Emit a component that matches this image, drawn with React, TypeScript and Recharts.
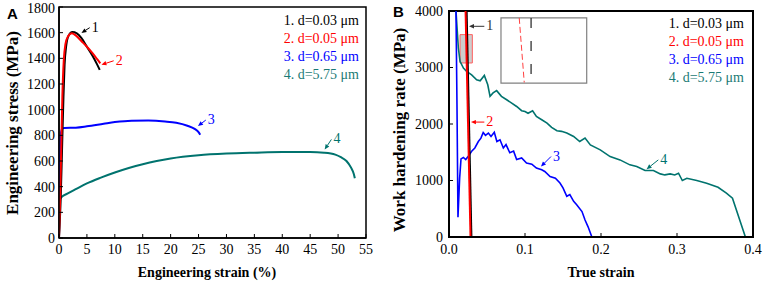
import { LineChart, Line, XAxis, YAxis, ReferenceArea, ReferenceLine } from "recharts";

// ---------- panel A: engineering stress-strain ----------
const strainA1 = [0, 0.3, 0.55, 0.8, 1.0, 1.3, 1.7, 2.4, 3.2, 4, 5, 6, 6.8, 7.3];
const stressA1 = [0, 300, 700, 1100, 1350, 1500, 1575, 1605, 1595, 1560, 1490, 1420, 1355, 1310];

const strainA2 = [0, 0.2, 0.4, 0.6, 0.85, 1.15, 1.6, 2.3, 3.1, 4, 5, 6, 6.8, 7.4];
const stressA2 = [0, 300, 700, 1100, 1380, 1510, 1570, 1595, 1575, 1535, 1490, 1440, 1395, 1360];

const strainA3 = [0, 0.1, 0.3, 0.6, 1, 3, 5, 8, 10, 13, 16, 19, 21, 23, 24.3, 25, 25.3];
const stressA3 = [0, 400, 800, 855, 858, 860, 870, 890, 903, 914, 915, 908, 898, 875, 850, 825, 805];

const strainA4 = [0, 0.05, 0.5, 1.5, 3, 5, 7.5, 10, 12.5, 15, 17.5, 20, 25, 30, 35, 40, 45, 47.5, 49.5, 50.5, 51.5, 52.3, 52.8, 53];
const stressA4 = [0, 290, 320, 345, 380, 425, 470, 510, 545, 575, 600, 620, 645, 658, 665, 670, 670, 665, 650, 630, 600, 550, 500, 465];

const ticksAX = [0, 5, 10, 15, 20, 25, 30, 35, 40, 45, 50, 55];
const ticksAY = [0, 200, 400, 600, 800, 1000, 1200, 1400, 1600, 1800];

// ---------- panel B: work hardening rate ----------
const strainB1 = [0.0232, 0.0295];
const rateB1 = [4000, 0];
const strainB2 = [0.0218, 0.0283];
const rateB2 = [4000, 0];

const strainB3 = [0.0092, 0.0105, 0.0118, 0.014, 0.0158, 0.0189, 0.022, 0.0254, 0.0298, 0.034, 0.0386, 0.042, 0.045, 0.048, 0.0518, 0.0553, 0.0596, 0.063, 0.0671, 0.0715, 0.075, 0.08, 0.085, 0.089, 0.0956, 0.102, 0.109, 0.115, 0.122, 0.126, 0.133, 0.14, 0.146, 0.15, 0.155, 0.159, 0.164, 0.168, 0.175, 0.179, 0.183, 0.188];
const rateB3 = [4000, 2340, 349, 1040, 1383, 1407, 1370, 1430, 1517, 1576, 1690, 1750, 1850, 1800, 1840, 1780, 1855, 1690, 1720, 1576, 1635, 1490, 1520, 1370, 1400, 1310, 1290, 1220, 1190, 1160, 1070, 1040, 955, 870, 720, 750, 630, 570, 450, 300, 180, 0];

const strainB4 = [0.0092, 0.0123, 0.0145, 0.019, 0.0232, 0.0298, 0.0364, 0.041, 0.0465, 0.051, 0.054, 0.058, 0.0627, 0.069, 0.0759, 0.0825, 0.089, 0.0956, 0.1, 0.104, 0.11, 0.115, 0.122, 0.129, 0.135, 0.142, 0.148, 0.155, 0.164, 0.172, 0.179, 0.186, 0.199, 0.212, 0.225, 0.238, 0.247, 0.258, 0.269, 0.278, 0.284, 0.291, 0.297, 0.302, 0.307, 0.313, 0.326, 0.339, 0.354, 0.365, 0.373, 0.39];
const rateB4 = [4000, 3345, 3109, 2990, 2930, 2870, 2784, 2765, 2860, 2695, 2490, 2550, 2590, 2490, 2430, 2370, 2310, 2235, 2220, 2190, 2235, 2133, 2075, 2015, 1940, 1880, 1870, 1840, 1780, 1690, 1750, 1630, 1543, 1424, 1365, 1277, 1247, 1176, 1176, 1117, 1099, 1117, 1099, 1129, 1000, 1040, 1000, 950, 880, 775, 686, 0];

const ticksBX = [0, 0.1, 0.2, 0.3, 0.4];
const ticksBY = [0, 1000, 2000, 3000, 4000];

const legendLabels = ["1. d=0.03 μm", "2. d=0.05 μm", "3. d=0.65 μm", "4. d=5.75 μm"];
const colors = ["#000000", "#ff0000", "#0000ff", "#00736e"];
const legendColors = ["#000000", "#ff0000", "#0000ff", "#1a7a75"];

const zip = (xs: number[], ys: number[]) => xs.map((x, i) => ({ x, y: ys[i] }));

const seriesA = [zip(strainA1, stressA1), zip(strainA2, stressA2), zip(strainA3, stressA3), zip(strainA4, stressA4)];
const seriesB = [zip(strainB1, rateB1), zip(strainB2, rateB2), zip(strainB3, rateB3), zip(strainB4, rateB4)];

// annotation arrows: tail -> head, in data units
const arrowsA = [
  { tail: [5.5, 1639], head: [4.02, 1598], text: "1", color: "#000" },
  { tail: [9.8, 1381], head: [7.6, 1350], text: "2", color: "#ff0000" },
  { tail: [26.3, 919], head: [24.9, 872], text: "3", color: "#0000ff" },
  { tail: [48.8, 768], head: [47.6, 690], text: "4", color: "#00736e" },
];
const arrowsB = [
  { tail: [0.0465, 3729], head: [0.0263, 3729], text: "1", color: "#333" },
  { tail: [0.0465, 2034], head: [0.0289, 2034], text: "2", color: "#ff0000" },
  { tail: [0.1342, 1424], head: [0.121, 1246], text: "3", color: "#0000ff" },
  { tail: [0.2754, 1365], head: [0.26, 1200], text: "4", color: "#00736e" },
];

const serif = "Liberation Serif, Times New Roman, serif";
const tickStyle = { fill: "#000", fontSize: 14, fontFamily: serif };

const arrowShape = (color: string, text: string) => (p: any) => {
  const { x1, y1, x2, y2 } = p;
  const a = Math.atan2(y2 - y1, x2 - x1);
  const L = 5;
  const W = 2.2;
  const bx = x2 - L * Math.cos(a);
  const by = y2 - L * Math.sin(a);
  const pts = `${x2},${y2} ${bx - W * Math.sin(a)},${by + W * Math.cos(a)} ${bx + W * Math.sin(a)},${by - W * Math.cos(a)}`;
  return (
    <g>
      <line x1={x1} y1={y1} x2={bx} y2={by} stroke={color} strokeWidth={1} />
      <polygon points={pts} fill={color} />
      <text x={x1 + 2} y={y1 + 4} fill={color} fontSize={14} fontFamily={serif}>
        {text}
      </text>
    </g>
  );
};

function Legend({ right, top }: { right: number; top: number }) {
  return (
    <div style={{ position: "absolute", left: 0, top, width: right, textAlign: "right", fontFamily: serif, fontSize: 14, lineHeight: "18px" }}>
      {legendLabels.map((l, i) => (
        <div key={l} style={{ color: legendColors[i] }}>{l}</div>
      ))}
    </div>
  );
}

function App() {
  return (
    <div style={{ position: "absolute", left: 0, top: 0, width: 765, height: 283, background: "#fff", fontFamily: serif, overflow: "hidden" }}>
      {/* panel A */}
      <div style={{ position: "absolute", left: 0, top: 0 }}>
        <LineChart width={380} height={283} margin={{ top: 7, right: 14, bottom: 15, left: 9 }} style={{ fontFamily: serif }}>
          <XAxis type="number" dataKey="x" domain={[0, 55]} ticks={ticksAX} allowDataOverflow height={30}
            tick={tickStyle} tickSize={-4} tickMargin={10} axisLine={{ stroke: "#000", strokeWidth: 1.5 }} tickLine={{ stroke: "#000" }} />
          <YAxis type="number" dataKey="y" domain={[0, 1800]} ticks={ticksAY} allowDataOverflow width={50}
            tick={tickStyle} tickSize={-4} tickMargin={8} axisLine={{ stroke: "#000", strokeWidth: 1.5 }} tickLine={{ stroke: "#000" }} />
          <ReferenceArea x1={0} x2={55} y1={0} y2={1800} fill="none" stroke="#000" strokeWidth={1.5} />
          {[3, 2, 0, 1].map((i) => (
            <Line key={i} data={seriesA[i]} dataKey="y" type="monotone" stroke={colors[i]} strokeWidth={2} dot={false} isAnimationActive={false} />
          ))}
          {arrowsA.map((a) => (
            <ReferenceLine key={a.text} segment={[{ x: a.tail[0], y: a.tail[1] }, { x: a.head[0], y: a.head[1] }]} shape={arrowShape(a.color, a.text)} />
          ))}
        </LineChart>
      </div>

      {/* panel B */}
      <div style={{ position: "absolute", left: 380, top: 0 }}>
        <LineChart width={385} height={283} margin={{ top: 11, right: 12, bottom: 16, left: 19 }} style={{ fontFamily: serif }}>
          <XAxis type="number" dataKey="x" domain={[0, 0.4]} ticks={ticksBX} allowDataOverflow height={30}
            tickFormatter={(v: number) => v.toFixed(1)}
            tick={tickStyle} tickSize={-4} tickMargin={11} axisLine={{ stroke: "#000", strokeWidth: 2 }} tickLine={{ stroke: "#000" }} />
          <YAxis type="number" dataKey="y" domain={[0, 4000]} ticks={ticksBY} allowDataOverflow width={50}
            tick={tickStyle} tickSize={-4} tickMargin={10} axisLine={{ stroke: "#000", strokeWidth: 2 }} tickLine={{ stroke: "#000" }} />
          <ReferenceArea x1={0} x2={0.4} y1={0} y2={4000} fill="none" stroke="#000" strokeWidth={2} />
          <ReferenceArea x1={0.0684} x2={0.1812} y1={2725} y2={3878} fill="#fff" fillOpacity={1} stroke="#808080" strokeWidth={1.2} />
          <ReferenceLine segment={[{ x: 0.0924, y: 3878 }, { x: 0.099, y: 2735 }]} stroke="#ff4040" strokeDasharray="6 3" strokeWidth={1} />
          <ReferenceLine segment={[{ x: 0.108, y: 3878 }, { x: 0.108, y: 2725 }]} stroke="#222" strokeDasharray="10 13" strokeWidth={1.2} />
          <ReferenceArea x1={0.0145} x2={0.0307} y1={3080} y2={3582} fill="#b8b8b8" fillOpacity={0.7} stroke="#ff6060" strokeWidth={1} />
          {[3, 2, 0, 1].map((i) => (
            <Line key={i} data={seriesB[i]} dataKey="y" type="linear" stroke={colors[i]} strokeWidth={i < 2 ? 2 : 1.6} dot={false} isAnimationActive={false} />
          ))}
          {arrowsB.map((a) => (
            <ReferenceLine key={a.text} segment={[{ x: a.tail[0], y: a.tail[1] }, { x: a.head[0], y: a.head[1] }]} shape={arrowShape(a.color, a.text)} />
          ))}
        </LineChart>
      </div>

      <Legend right={359} top={12} />
      <Legend right={744} top={15} />

      {/* panel letters */}
      <div style={{ position: "absolute", left: 7, top: 5, fontFamily: "Liberation Sans, Arial, sans-serif", fontWeight: "bold", fontSize: 15 }}>A</div>
      <div style={{ position: "absolute", left: 393, top: 3, fontFamily: "Liberation Sans, Arial, sans-serif", fontWeight: "bold", fontSize: 15 }}>B</div>

      {/* axis titles */}
      <div style={{ position: "absolute", left: 207, top: 273, transform: "translate(-50%, -50%)", whiteSpace: "nowrap", fontWeight: "bold", fontSize: 14 }}>Engineering strain (%)</div>
      <div style={{ position: "absolute", left: 601, top: 273, transform: "translate(-50%, -50%)", whiteSpace: "nowrap", fontWeight: "bold", fontSize: 14 }}>True strain</div>
      <div style={{ position: "absolute", left: 13, top: 123, transform: "translate(-50%, -50%) rotate(-90deg)", whiteSpace: "nowrap", fontWeight: "bold", fontSize: 17 }}>Engineering stress (MPa)</div>
      <div style={{ position: "absolute", left: 400, top: 130, transform: "translate(-50%, -50%) rotate(-90deg)", whiteSpace: "nowrap", fontWeight: "bold", fontSize: 17 }}>Work hardening rate (MPa)</div>
    </div>
  );
}

export default App;
